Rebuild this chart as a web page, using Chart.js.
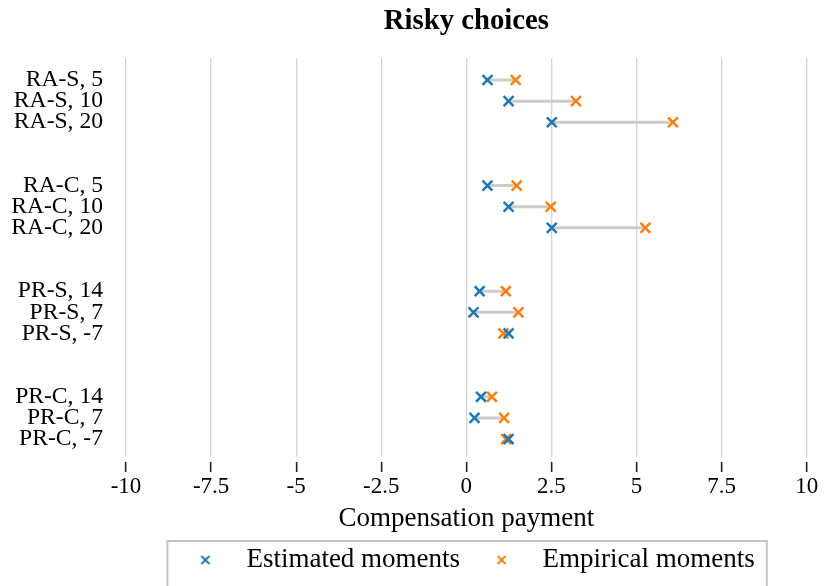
<!DOCTYPE html>
<html><head><meta charset="utf-8">
<script src="https://cdn.jsdelivr.net/npm/chart.js@4"></script>
<style>html,body{margin:0;padding:0;background:#fff}#wrap{width:826px;height:586px;position:relative}</style>
</head><body><div id="wrap"><canvas id="c"></canvas></div>
<script>
const rowLabels = ['RA-S, 5','RA-S, 10','RA-S, 20','RA-C, 5','RA-C, 10','RA-C, 20','PR-S, 14','PR-S, 7','PR-S, -7','PR-C, 14','PR-C, 7','PR-C, -7'];
const estimated = [0.62, 1.24, 2.51, 0.62, 1.24, 2.51, 0.39, 0.21, 1.24, 0.43, 0.24, 1.24];
const empirical = [1.45, 3.22, 6.07, 1.48, 2.48, 5.26, 1.16, 1.53, 1.09, 0.75, 1.11, 1.17];
const xTicks = [-10, -7.5, -5, -2.5, 0, 2.5, 5, 7.5, 10];
const seriesLabels = ['Estimated moments', 'Empirical moments'];
const groupSize = 3, groupGap = 2;
const rowPos = rowLabels.map((_, k) => Math.floor(k / groupSize) * (groupSize + groupGap) + k % groupSize);

const BLUE = '#1f77b4', ORANGE = '#ff7f0e';
const FONT = 'Liberation Serif';

function crossIcon(color) {
  const c = document.createElement('canvas');
  c.width = 12; c.height = 12;
  const g = c.getContext('2d');
  g.strokeStyle = color; g.lineWidth = 2;
  g.beginPath();
  g.moveTo(2, 2); g.lineTo(10, 10);
  g.moveTo(10, 2); g.lineTo(2, 10);
  g.stroke();
  return c;
}
const legendIcons = [crossIcon(BLUE), crossIcon(ORANGE)];

const connectorData = [];
rowPos.forEach((p, k) => {
  connectorData.push({x: estimated[k], y: p}, {x: empirical[k], y: p}, {x: null, y: null});
});

const legendFrame = {
  id: 'legendFrame',
  afterDraw(chart) {
    const lg = chart.legend, hb = lg && lg.legendHitBoxes;
    if (!hb || !hb.length) return;
    const last = hb[hb.length - 1];
    const l = hb[0].left - 10.5, r = last.left + last.width + 12, t = lg.top + 8.5;
    const ctx = chart.ctx;
    ctx.save();
    ctx.strokeStyle = '#c4c4c4';
    ctx.lineWidth = 2;
    ctx.strokeRect(l, t, r - l, 620 - t);
    ctx.restore();
  }
};

new Chart(document.getElementById('c'), {
  type: 'scatter',
  data: {
    datasets: [
      {label: seriesLabels[0], data: estimated.map((v, k) => ({x: v, y: rowPos[k]})),
       pointStyle: 'crossRot', pointRadius: 7, pointHoverRadius: 7, pointBorderWidth: 2.5,
       borderColor: BLUE, backgroundColor: BLUE},
      {label: seriesLabels[1], data: empirical.map((v, k) => ({x: v, y: rowPos[k]})),
       pointStyle: 'crossRot', pointRadius: 7, pointHoverRadius: 7, pointBorderWidth: 2.5,
       borderColor: ORANGE, backgroundColor: ORANGE},
      {label: 'range', data: connectorData, showLine: true, spanGaps: false,
       borderColor: '#cccccc', borderWidth: 3, pointRadius: 0, pointHoverRadius: 0}
    ]
  },
  options: {
    responsive: true, maintainAspectRatio: false, animation: false, devicePixelRatio: 1,
    layout: {padding: {left: 0, right: 19.3, top: 0, bottom: 2.5}},
    scales: {
      x: {
        type: 'linear', min: -10, max: 10,
        afterBuildTicks: s => { s.ticks = xTicks.map(v => ({value: v})); },
        afterFit: s => { s.height = 75.5; },
        ticks: {padding: 1, color: '#000', autoSkip: false, maxRotation: 0,
                font: {family: FONT, size: 23}, callback: v => String(v)},
        grid: {color: '#d4d4d4', lineWidth: 1.3, drawTicks: true, tickLength: 15,
               tickColor: '#222', tickWidth: 1.6, tickBorderDash: [0, 5, 10, 100]},
        border: {display: false},
        title: {display: true, text: 'Compensation payment', color: '#000',
                font: {family: FONT, size: 27, lineHeight: 1}, padding: {top: 0, bottom: 0}}
      },
      y: {
        type: 'linear', reverse: true, min: -1.04, max: 17.85,
        afterBuildTicks: s => { s.ticks = rowPos.map(v => ({value: v})); },
        afterFit: s => { s.width = 126; },
        ticks: {padding: 23, color: '#000', autoSkip: false,
                font: {family: FONT, size: 23.6}, callback: (v, i) => rowLabels[i]},
        grid: {display: false, drawTicks: false},
        border: {display: false}
      }
    },
    plugins: {
      tooltip: {enabled: false},
      title: {display: true, text: 'Risky choices', fullSize: false, color: '#000',
              font: {family: FONT, size: 28.7, weight: 'bold'}, padding: {top: 4.6, bottom: 19}},
      legend: {
        position: 'bottom', fullSize: false,
        labels: {
          usePointStyle: true, pointStyleWidth: 55, boxHeight: 8, padding: 14, color: '#000',
          font: {family: FONT, size: 27},
          filter: item => item.datasetIndex < 2,
          generateLabels(chart) {
            const items = Chart.defaults.plugins.legend.labels.generateLabels(chart);
            items.forEach(it => { if (legendIcons[it.datasetIndex]) it.pointStyle = legendIcons[it.datasetIndex]; });
            return items;
          }
        }
      }
    }
  },
  plugins: [legendFrame]
});
</script>
</body></html>
